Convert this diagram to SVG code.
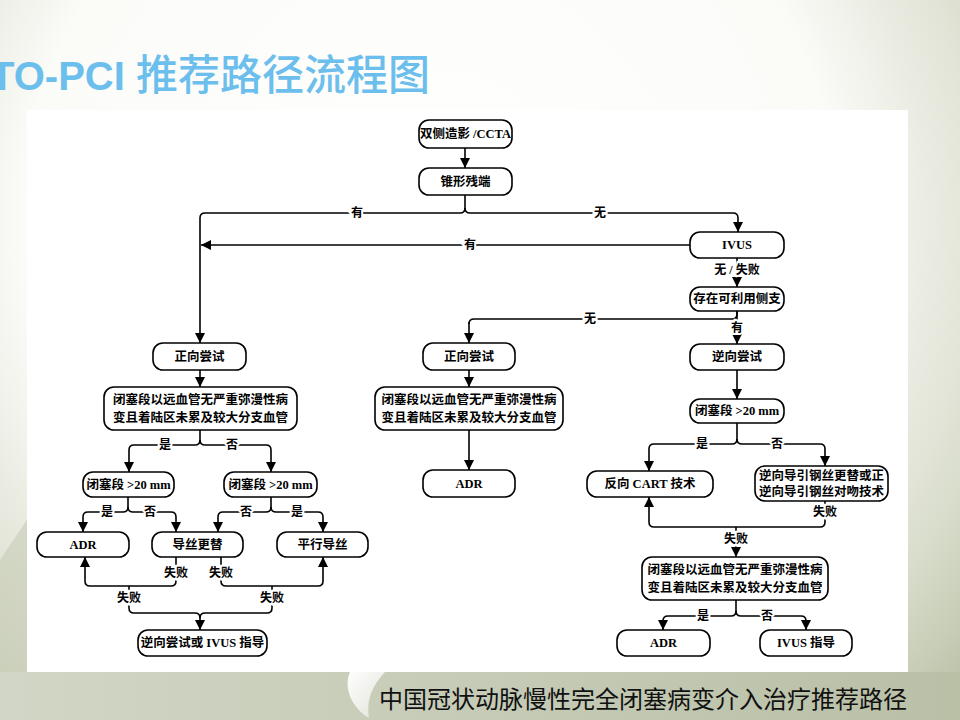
<svg xmlns="http://www.w3.org/2000/svg" width="960" height="720" viewBox="0 0 960 720">
<defs>
<radialGradient id="bg" cx="430" cy="220" r="740" gradientUnits="userSpaceOnUse">
<stop offset="0" stop-color="#ffffff"/>
<stop offset="0.55" stop-color="#fbfbf8"/>
<stop offset="0.8" stop-color="#d9ddcc"/>
<stop offset="1" stop-color="#b3bb9e"/>
</radialGradient>
<linearGradient id="band" x1="0" y1="0" x2="1" y2="0">
<stop offset="0" stop-color="#d2d6c6"/>
<stop offset="0.5" stop-color="#c5cbb6"/>
<stop offset="1" stop-color="#b9c0a6"/>
</linearGradient>
<linearGradient id="curl" x1="0" y1="0" x2="1" y2="1">
<stop offset="0" stop-color="#ffffff"/>
<stop offset="1" stop-color="#dfe2d6"/>
</linearGradient>
<marker id="ah" markerUnits="userSpaceOnUse" markerWidth="11" markerHeight="10" refX="10" refY="5" orient="auto">
<path d="M0,0 L10,5 L0,10 Z" fill="#000"/>
</marker>
<style>
.box{fill:#fff;stroke:#000;stroke-width:1.6}
.t{font-family:"Liberation Serif","Noto Sans CJK SC",serif;font-size:12.5px;font-weight:bold;fill:#000;text-anchor:middle;dominant-baseline:central}
.c{fill:none;stroke:#000;stroke-width:1.6}
.a{marker-end:url(#ah)}
.lb{font-family:"Liberation Serif","Noto Sans CJK SC",serif;font-size:12px;font-weight:bold;fill:#000;text-anchor:middle;dominant-baseline:central;stroke:#fff;stroke-width:4;paint-order:stroke}
</style>
</defs>

<g id="background">
<rect x="0" y="0" width="960" height="720" fill="url(#bg)"/>
<rect x="0" y="672" width="960" height="48" fill="url(#band)"/>
<path d="M0,560 C20,530 40,500 60,470 L27,470 L27,672 L0,672 Z" fill="#c6ccb6" opacity="0.6"/>
<path d="M350,672 L385,672 C372,686 366,700 369,718 C352,708 343,688 350,672 Z" fill="url(#curl)"/>
<rect x="27" y="110" width="881" height="562" fill="#ffffff"/>
</g>

<text id="title" x="-10" y="90" font-family="'Liberation Sans','Noto Sans CJK SC',sans-serif" font-size="40" fill="#6cbfec"><tspan font-weight="bold">TO-PCI</tspan> <tspan font-size="42" font-weight="500">推荐路径流程图</tspan></text>
<text id="caption" x="643" y="697" font-family="'Noto Sans CJK SC',sans-serif" font-size="24" fill="#111" text-anchor="middle" dominant-baseline="central">中国冠状动脉慢性完全闭塞病变介入治疗推荐路径</text>

<g id="connectors">
<path class="c a" d="M465,148 V168"/>
<path class="c a" d="M465,195 V208 Q465,213 460,213 H205 Q200,213 200,218 V343"/>
<path class="c a" d="M465,208 Q465,213 470,213 H733 Q738,213 738,218 V232"/>
<path class="c a" d="M690,245 H201"/>
<path class="c a" d="M737,258 V287"/>
<path class="c" d="M737,311 V314 Q737,319 732,319 H474 Q469,319 469,324"/>
<path class="c a" d="M469,322 V343"/>
<path class="c a" d="M737,311 V344"/>
<path class="c a" d="M737,370 V399"/>
<path class="c a" d="M737,423 V439 Q737,444 732,444 H654 Q649,444 649,449 V471"/>
<path class="c a" d="M737,439 Q737,444 742,444 H820 Q825,444 825,449 V466"/>
<path class="c a" d="M825,501 V522 Q825,527 820,527 H654 Q649,527 649,522 V497"/>
<path class="c a" d="M736,527 V557"/>
<path class="c a" d="M736,600 V611 Q736,616 731,616 H668 Q663,616 663,621 V630"/>
<path class="c a" d="M736,611 Q736,616 741,616 H801 Q806,616 806,621 V630"/>
<path class="c a" d="M469,370 V387"/>
<path class="c a" d="M469,430 V470"/>
<path class="c a" d="M200,370 V387"/>
<path class="c a" d="M200,430 V440 Q200,445 195,445 H134 Q129,445 129,450 V472"/>
<path class="c a" d="M200,440 Q200,445 205,445 H266 Q271,445 271,450 V472"/>
<path class="c a" d="M128,497 V507 Q128,512 123,512 H88 Q83,512 83,517 V532"/>
<path class="c a" d="M128,507 Q128,512 133,512 H171 Q176,512 176,517 V532"/>
<path class="c a" d="M271,497 V507 Q271,512 266,512 H223 Q218,512 218,517 V532"/>
<path class="c a" d="M271,507 Q271,512 276,512 H318 Q323,512 323,517 V532"/>
<path class="c a" d="M176,557 V581 Q176,586 171,586 H90 Q85,586 85,581 V557"/>
<path class="c a" d="M221,557 V581 Q221,586 226,586 H318 Q323,586 323,581 V557"/>
<path class="c" d="M129,586 V608 Q129,613 134,613 H195 Q200,613 200,618"/>
<path class="c" d="M272,586 V608 Q272,613 267,613 H205 Q200,613 200,618"/>
<path class="c a" d="M200,616 V630"/>
<text class="lb" x="357" y="213">有</text>
<text class="lb" x="600" y="213">无</text>
<text class="lb" x="470" y="245">有</text>
<text class="lb" x="737" y="270">无 / 失败</text>
<text class="lb" x="590" y="319">无</text>
<text class="lb" x="737" y="328">有</text>
<text class="lb" x="702" y="444">是</text>
<text class="lb" x="777" y="444">否</text>
<text class="lb" x="825" y="512">失败</text>
<text class="lb" x="736" y="539">失败</text>
<text class="lb" x="703" y="616">是</text>
<text class="lb" x="767" y="616">否</text>
<text class="lb" x="165" y="445">是</text>
<text class="lb" x="232" y="445">否</text>
<text class="lb" x="107" y="512">是</text>
<text class="lb" x="150" y="512">否</text>
<text class="lb" x="246" y="512">否</text>
<text class="lb" x="297" y="512">是</text>
<text class="lb" x="176" y="573">失败</text>
<text class="lb" x="221" y="573">失败</text>
<text class="lb" x="129" y="598">失败</text>
<text class="lb" x="272" y="598">失败</text>
</g>

<g id="n1"><rect class="box" x="419" y="120" width="93" height="28" rx="10"/><text class="t" x="465.5" y="134" font-size="11.5">双侧造影 /CCTA</text></g>
<g id="n2"><rect class="box" x="419" y="168" width="93" height="27" rx="10"/><text class="t" x="465.5" y="181.5">锥形残端</text></g>
<g id="n3"><rect class="box" x="690" y="232" width="94" height="26" rx="10"/><text class="t" x="737" y="245">IVUS</text></g>
<g id="n4"><rect class="box" x="690" y="287" width="94" height="24" rx="10"/><text class="t" x="737" y="299">存在可利用侧支</text></g>
<g id="n5"><rect class="box" x="690" y="344" width="94" height="26" rx="10"/><text class="t" x="737" y="357">逆向尝试</text></g>
<g id="n6"><rect class="box" x="690" y="399" width="94" height="24" rx="10"/><text class="t" x="737" y="411">闭塞段 &gt;20 mm</text></g>
<g id="n7"><rect class="box" x="587" y="471" width="126" height="26" rx="10"/><text class="t" x="650" y="484">反向 CART 技术</text></g>
<g id="n8"><rect class="box" x="755" y="466" width="133" height="35" rx="10"/><text class="t" x="821.5" y="476">逆向导引钢丝更替或正</text><text class="t" x="821.5" y="492">逆向导引钢丝对吻技术</text></g>
<g id="n9"><rect class="box" x="642" y="557" width="186" height="43" rx="10"/><text class="t" x="735" y="570">闭塞段以远血管无严重弥漫性病</text><text class="t" x="735" y="588">变且着陆区未累及较大分支血管</text></g>
<g id="n10"><rect class="box" x="617" y="630" width="93" height="26" rx="10"/><text class="t" x="663.5" y="643">ADR</text></g>
<g id="n11"><rect class="box" x="760" y="630" width="92" height="26" rx="10"/><text class="t" x="806" y="643">IVUS 指导</text></g>
<g id="m1"><rect class="box" x="423" y="343" width="92" height="27" rx="10"/><text class="t" x="469" y="356.5">正向尝试</text></g>
<g id="m2"><rect class="box" x="375" y="387" width="188" height="43" rx="10"/><text class="t" x="469" y="400">闭塞段以远血管无严重弥漫性病</text><text class="t" x="469" y="418">变且着陆区未累及较大分支血管</text></g>
<g id="m3"><rect class="box" x="423" y="470" width="92" height="27" rx="10"/><text class="t" x="469" y="483.5">ADR</text></g>
<g id="l1"><rect class="box" x="153" y="343" width="93" height="27" rx="10"/><text class="t" x="199.5" y="356.5">正向尝试</text></g>
<g id="l2"><rect class="box" x="104" y="387" width="193" height="43" rx="10"/><text class="t" x="200.5" y="400">闭塞段以远血管无严重弥漫性病</text><text class="t" x="200.5" y="418">变且着陆区未累及较大分支血管</text></g>
<g id="l3"><rect class="box" x="83" y="472" width="91" height="25" rx="10"/><text class="t" x="128.5" y="484.5">闭塞段 &gt;20 mm</text></g>
<g id="l4"><rect class="box" x="224" y="472" width="93" height="25" rx="10"/><text class="t" x="270.5" y="484.5">闭塞段 &gt;20 mm</text></g>
<g id="l5"><rect class="box" x="37" y="532" width="92" height="25" rx="10"/><text class="t" x="83" y="544.5">ADR</text></g>
<g id="l6"><rect class="box" x="152" y="532" width="91" height="25" rx="10"/><text class="t" x="197.5" y="544.5">导丝更替</text></g>
<g id="l7"><rect class="box" x="277" y="532" width="91" height="25" rx="10"/><text class="t" x="322.5" y="544.5">平行导丝</text></g>
<g id="l8"><rect class="box" x="138" y="630" width="129" height="26" rx="10"/><text class="t" x="202.5" y="643">逆向尝试或 IVUS 指导</text></g>
</svg>
